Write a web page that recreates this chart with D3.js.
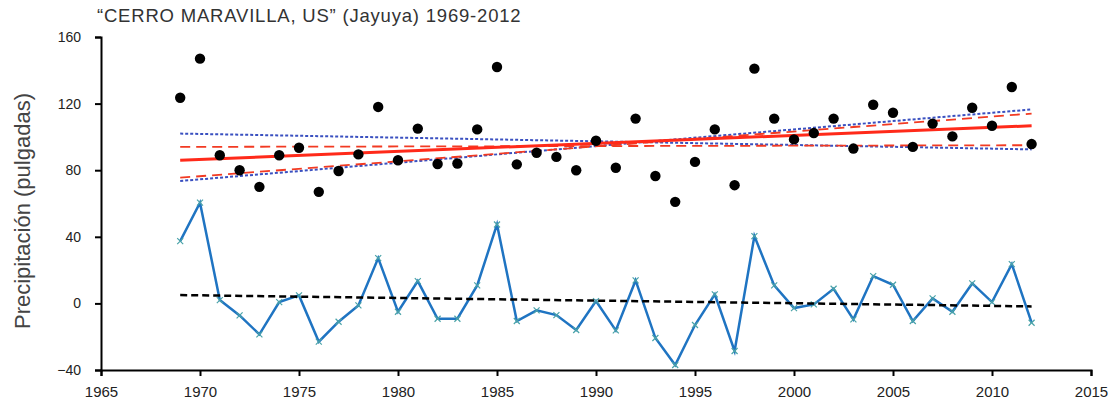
<!DOCTYPE html>
<html>
<head>
<meta charset="utf-8">
<script src="https://cdn.jsdelivr.net/npm/d3@7"></script>
<style>
  body { margin: 0; background: #fff; }
  .axis path, .axis line { stroke: #000; stroke-width: 2px; }
  .axis text { font-family: "Liberation Sans", Arial, sans-serif; font-size: 14px; fill: #222; }
  .xaxis text { font-family: "Liberation Sans Narrow", "Arial Narrow", "Liberation Sans", sans-serif; font-size: 15px; }
</style>
</head>
<body>
<div id="chart"></div>
<script>
// years of record
const years = d3.range(1969, 2013);

// annual precipitation (pulgadas)
const precip = [123.5, 147, 89, 80, 70, 89, 93.5, 67, 79.5, 89.5,
  118, 86, 105, 83.7, 84, 104.5, 142, 83.5, 90.5, 88,
  80, 97.7, 81.5, 111, 76.5, 61, 85, 104.5, 71, 141,
  111, 98.5, 102.3, 111, 93, 119.3, 114.5, 94, 108, 100.3,
  117.5, 106.7, 130, 95.7];

// anomaly series
const anomaly = [37.4, 60.5, 2, -7.2, -18.6, 0.8, 4.8, -23, -11, -1.2,
  27.2, -5, 13.4, -9.2, -9.2, 10.8, 47.4, -10.6, -4.2, -7,
  -16, 1.4, -16.2, 13.8, -20.8, -37, -13, 5.4, -28.6, 40.4,
  10.8, -2.8, -0.6, 8.8, -9.6, 16.4, 11.2, -10.6, 3, -5,
  12, 0.8, 23.6, -11.6];

// trend lines, values at first and last year
const trendYears = [1969, 2012];
const redTrend = [86, 106.7];
const redDashUp = [75.5, 114];
const redDashFlat = [94, 95];
const blueDotUp = [73.5, 116.5];
const blueDotDown = [102, 92.5];
const anomTrend = [5, -1.8];

const xTicks = d3.range(1965, 2016, 5);
const yTicks = [-40, 0, 40, 80, 120, 160];

const width = 1118, height = 406;
const margin = {top: 37, right: 27, bottom: 36, left: 101};
const w = width - margin.left - margin.right,
      h = height - margin.top - margin.bottom;

const svg = d3.select("#chart").append("svg")
  .attr("width", width)
  .attr("height", height);

const g = svg.append("g")
  .attr("transform", "translate(" + margin.left + "," + margin.top + ")");

const x = d3.scaleLinear().domain([1965, 2015]).range([0, w]);
const y = d3.scaleLinear().domain([-40, 160]).range([h, 0]);

// title
svg.append("text")
  .attr("x", 97)
  .attr("y", 22)
  .style("font-family", "'Liberation Sans', Arial, sans-serif")
  .style("font-size", "18.5px")
  .style("letter-spacing", "0.8px")
  .style("fill", "#333")
  .text("\u201cCERRO MARAVILLA, US\u201d (Jayuya) 1969-2012");

// y label
svg.append("text")
  .attr("transform", "translate(30,211) rotate(-90)")
  .attr("text-anchor", "middle")
  .style("font-family", "'Liberation Sans', Arial, sans-serif")
  .style("font-size", "22px")
  .style("fill", "#444")
  .text("Precipitación (pulgadas)");

// axes
g.append("g")
  .attr("class", "axis")
  .call(d3.axisLeft(y).tickValues(yTicks).tickSize(6).tickPadding(14).tickFormat(d3.format("d")));

g.append("g")
  .attr("class", "axis xaxis")
  .attr("transform", "translate(0," + h + ")")
  .call(d3.axisBottom(x).tickValues(xTicks).tickSize(6).tickPadding(10).tickFormat(d3.format("d")));

// straight trend lines
const lineOf = function (vals) {
  return trendYears.map(function (yr, i) { return [x(yr), y(vals[i])]; });
};
const trendLine = d3.line();

const trends = [
  {vals: blueDotDown, color: "#3a50c0", width: 2, dash: "3,2"},
  {vals: blueDotUp, color: "#3a50c0", width: 2, dash: "3,2"},
  {vals: redDashFlat, color: "#f23a22", width: 1.8, dash: "10,6"},
  {vals: redDashUp, color: "#f23a22", width: 1.8, dash: "10,6"},
  {vals: redTrend, color: "#ff2a1a", width: 3, dash: null}
];

trends.forEach(function (t) {
  g.append("path")
    .attr("d", trendLine(lineOf(t.vals)))
    .attr("fill", "none")
    .attr("stroke", t.color)
    .attr("stroke-width", t.width)
    .attr("stroke-dasharray", t.dash);
});

// anomaly line
const anomLine = d3.line()
  .x(function (d, i) { return x(years[i]); })
  .y(function (d) { return y(d); });

g.append("path")
  .datum(anomaly)
  .attr("d", anomLine)
  .attr("fill", "none")
  .attr("stroke", "#1f74c2")
  .attr("stroke-width", 2.5);

// x markers
g.selectAll(".mark")
  .data(anomaly).enter()
  .append("path")
  .attr("class", "mark")
  .attr("transform", function (d, i) { return "translate(" + x(years[i]) + "," + y(d) + ")"; })
  .attr("d", "M-3,-3L3,3M-3,3L3,-3")
  .attr("stroke", "#4aa3a8")
  .attr("stroke-width", 1.2);

// anomaly trend
g.append("path")
  .attr("d", trendLine(lineOf(anomTrend)))
  .attr("fill", "none")
  .attr("stroke", "#000")
  .attr("stroke-width", 2.5)
  .attr("stroke-dasharray", "7,4");

// precipitation dots
g.selectAll(".dot")
  .data(precip).enter()
  .append("circle")
  .attr("class", "dot")
  .attr("cx", function (d, i) { return x(years[i]); })
  .attr("cy", function (d) { return y(d); })
  .attr("r", 5.2)
  .attr("fill", "#000");
</script>
</body>
</html>
